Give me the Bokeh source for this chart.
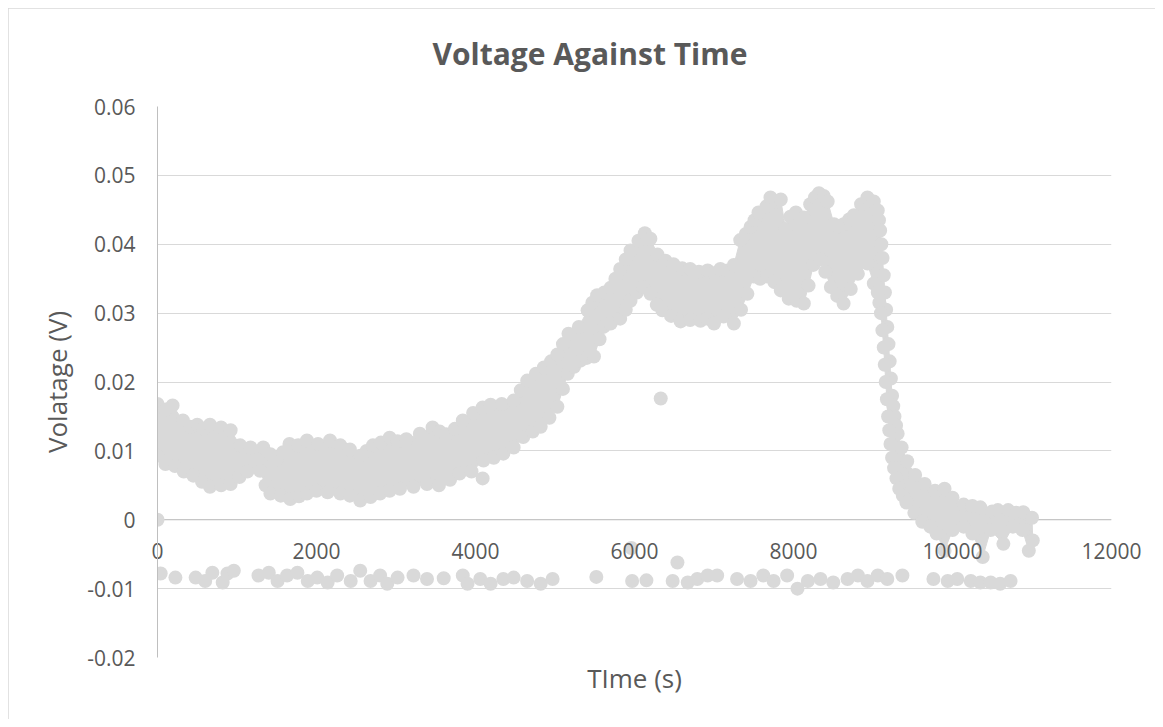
from bokeh.plotting import figure
from bokeh.models import FixedTicker, Span, Title
from bokeh.embed import file_html
from bokeh.resources import INLINE

# ---- data ----
# upper edge of the dense measurement cloud (time s, volts)
upper_x = [0, 100, 190, 320, 410, 500, 580, 660, 800, 920, 1040, 1170, 1330, 1420, 1500, 1580, 1660, 1770, 1880,
           2020, 2170, 2300, 2420, 2550, 2630, 2710, 2810, 2920, 3020, 3130, 3300, 3460, 3550, 3630, 3740, 3840,
           3970, 4090, 4190, 4330, 4480, 4570, 4650, 4760, 4860, 4950, 5030, 5100, 5170, 5300, 5410, 5470, 5530,
           5620, 5700, 5760, 5820, 5890, 5950, 6050, 6130, 6200, 6290, 6390, 6490, 6600, 6700, 6810, 6920, 7000,
           7080, 7170, 7250, 7330, 7400, 7460, 7510, 7560, 7660, 7710, 7780, 7840, 7900, 7960, 8030, 8130, 8210,
           8270, 8320, 8380, 8430, 8510, 8570, 8630, 8700, 8760, 8850, 8930, 9010, 9060, 9075, 9090, 9105, 9120,
           9135, 9150, 9165, 9180, 9195, 9210, 9225, 9240, 9255, 9270, 9290, 9310, 9360, 9430, 9530, 9650, 9780,
           9900, 10000, 10140, 10250, 10350, 10500, 10570, 10700, 10800, 10890, 11000]
upper_y = [0.0168, 0.0160, 0.0166, 0.0144, 0.0135, 0.0138, 0.0132, 0.0138, 0.0134, 0.0130, 0.0108, 0.0105,
           0.0105, 0.0095, 0.0087, 0.0098, 0.0110, 0.0108, 0.0115, 0.0110, 0.0115, 0.0108, 0.0102, 0.0093,
           0.0100, 0.0108, 0.0112, 0.0119, 0.0114, 0.0117, 0.0125, 0.0134, 0.0128, 0.0124, 0.0132, 0.0144,
           0.0155, 0.0163, 0.0167, 0.0168, 0.0173, 0.0188, 0.0202, 0.0212, 0.0221, 0.0230, 0.0240, 0.0255,
           0.0270, 0.0280, 0.0304, 0.0315, 0.0326, 0.0330, 0.0337, 0.0350, 0.0364, 0.0378, 0.0391, 0.0405,
           0.0416, 0.0408, 0.0385, 0.0376, 0.0371, 0.0365, 0.0364, 0.0360, 0.0362, 0.0358, 0.0364, 0.0362,
           0.0370, 0.0406, 0.0415, 0.0425, 0.0435, 0.0446, 0.0455, 0.0468, 0.0462, 0.0465, 0.0422, 0.0440,
           0.0446, 0.0439, 0.0458, 0.0468, 0.0474, 0.0470, 0.0462, 0.0429, 0.0426, 0.0429, 0.0436, 0.0442,
           0.0458, 0.0468, 0.0462, 0.0449, 0.0435, 0.0420, 0.0400, 0.0380, 0.0355, 0.0330, 0.0305, 0.0280,
           0.0255, 0.0230, 0.0205, 0.0180, 0.0165, 0.0150, 0.0137, 0.0125, 0.0105, 0.0085, 0.0065, 0.0052,
           0.0042, 0.0045, 0.0032, 0.0022, 0.0020, 0.0018, 0.0012, 0.0014, 0.0014, 0.0010, 0.0011, 0.0003]

# lower edge of the dense measurement cloud
lower_x = [0, 100, 220, 330, 450, 560, 660, 800, 920, 1030, 1130, 1290, 1360, 1420, 1550, 1670, 1780, 1880, 2000,
           2140, 2300, 2420, 2550, 2680, 2800, 2920, 3050, 3220, 3390, 3540, 3680, 3800, 3950, 4100, 4230, 4350,
           4480, 4600, 4720, 4820, 4930, 5030, 5100, 5160, 5240, 5320, 5400, 5490, 5560, 5610, 5700, 5820, 5890,
           5950, 6030, 6110, 6200, 6280, 6350, 6460, 6580, 6700, 6830, 6920, 7000, 7120, 7250, 7340, 7420, 7500,
           7580, 7670, 7760, 7840, 7940, 8040, 8130, 8190, 8250, 8340, 8400, 8470, 8550, 8630, 8720, 8810, 8930,
           9010, 9060, 9080, 9100, 9118, 9135, 9148, 9160, 9175, 9190, 9205, 9220, 9240, 9265, 9295, 9330, 9375,
           9420, 9520, 9620, 9720, 9800, 9900, 10000, 10140, 10250, 10380, 10480, 10640, 10760, 10880, 10960,
           11010]
lower_y = [0.0093, 0.0081, 0.0078, 0.0070, 0.0064, 0.0055, 0.0048, 0.0050, 0.0052, 0.0062, 0.0070, 0.0071,
           0.0050, 0.0038, 0.0035, 0.0030, 0.0034, 0.0038, 0.0042, 0.0040, 0.0038, 0.0035, 0.0028, 0.0033,
           0.0038, 0.0042, 0.0045, 0.0048, 0.0052, 0.0050, 0.0058, 0.0067, 0.0070, 0.0086, 0.0090, 0.0096,
           0.0105, 0.0120, 0.0128, 0.0135, 0.0148, 0.0164, 0.0190, 0.0212, 0.0222, 0.0231, 0.0235, 0.0237,
           0.0262, 0.0280, 0.0285, 0.0292, 0.0305, 0.0318, 0.0330, 0.0338, 0.0328, 0.0312, 0.0304, 0.0296,
           0.0288, 0.0290, 0.0289, 0.0292, 0.0285, 0.0295, 0.0285, 0.0305, 0.0328, 0.0353, 0.0350, 0.0353,
           0.0345, 0.0333, 0.0321, 0.0318, 0.0314, 0.0340, 0.0370, 0.0378, 0.0360, 0.0338, 0.0325, 0.0314,
           0.0335, 0.0357, 0.0372, 0.0343, 0.0330, 0.0315, 0.0300, 0.0275, 0.0250, 0.0225, 0.0200, 0.0175,
           0.0150, 0.0130, 0.0110, 0.0090, 0.0075, 0.0060, 0.0045, 0.0035, 0.0025, 0.0010, -0.0003, -0.0010,
           -0.0020, -0.0045, -0.0015, -0.0010, -0.0020, -0.0054, -0.0015, -0.0035, -0.0010, -0.0015, -0.0045,
           -0.0030]

# row of readings near -0.009 V
row_x = [40, 225, 480, 600, 690, 820, 880, 960, 1270, 1400, 1510, 1630, 1760, 1890, 2010, 2140, 2260, 2430,
         2550, 2680, 2800, 2890, 3020, 3220, 3390, 3600, 3840, 3900, 4060, 4190, 4350, 4480, 4650, 4820, 4970,
         5520, 5970, 6150, 6480, 6670, 6790, 6920, 7040, 7290, 7460, 7620, 7750, 7920, 8050, 8180, 8340, 8500,
         8680, 8810, 8930, 9060, 9180, 9370, 9760, 9940, 10060, 10230, 10350, 10480, 10600, 10730]
row_y = [-0.0078, -0.0084, -0.0084, -0.0089, -0.0077, -0.0091, -0.0078, -0.0074, -0.0081, -0.0077, -0.0089,
         -0.0081, -0.0077, -0.0089, -0.0084, -0.0091, -0.0081, -0.0089, -0.0074, -0.0089, -0.0081, -0.0093,
         -0.0084, -0.0081, -0.0086, -0.0085, -0.0081, -0.0093, -0.0086, -0.0093, -0.0086, -0.0084, -0.0089,
         -0.0093, -0.0086, -0.0083, -0.0089, -0.0088, -0.0089, -0.0091, -0.0086, -0.0081, -0.0081, -0.0086,
         -0.0089, -0.0081, -0.0089, -0.0081, -0.0100, -0.0089, -0.0086, -0.0091, -0.0086, -0.0081, -0.0089,
         -0.0081, -0.0086, -0.0081, -0.0086, -0.0089, -0.0086, -0.0089, -0.0091, -0.0091, -0.0093, -0.0089]

# isolated readings
out_x = [0, 4090, 6330, 5960, 6540]
out_y = [0.0, 0.0060, 0.0176, -0.0041, -0.0062]

# axes
x_ticks = [0, 2000, 4000, 6000, 8000, 10000, 12000]
x_labels = ["0", "2000", "4000", "6000", "8000", "10000", "12000"]
y_ticks = [-0.02, -0.01, 0, 0.01, 0.02, 0.03, 0.04, 0.05, 0.06]
y_labels = ["-0.02", "-0.01", "0", "0.01", "0.02", "0.03", "0.04", "0.05", "0.06"]

FONT = "Open Sans"
TXT = "#595959"
MARK = "#d9d9d9"
GRID = "#d9d9d9"
AXIS = "#bfbfbf"

p = figure(width=1147, height=711, x_range=(0, 12000), y_range=(-0.02, 0.06),
           output_backend="svg", toolbar_location=None,
           min_border_left=149, min_border_right=44, min_border_top=98, min_border_bottom=62,
           title="Voltage Against Time")
p.styles = {"margin": "8px", "outline": "1px solid #d9d9d9", "outline-offset": "-1px"}
p.outline_line_color = None
p.background_fill_color = "white"
p.border_fill_color = "white"

# empty spacer between the frame and the chart title (lifts the title)
p.add_layout(Title(text=" ", text_font_size="10px", standoff=20), "above")

p.title.text_font = FONT
p.title.text_font_size = "30px"
p.title.text_font_style = "bold"
p.title.text_color = TXT
p.title.align = "left"
p.title.offset = 275
p.title.standoff = 0

# y axis
p.yaxis.ticker = FixedTicker(ticks=y_ticks)
p.yaxis.major_label_overrides = {t: s for t, s in zip(y_ticks, y_labels)}
p.yaxis.major_tick_line_color = None
p.yaxis.major_tick_out = 0
p.yaxis.major_tick_in = 0
p.yaxis.minor_tick_line_color = None
p.yaxis.axis_line_color = AXIS
p.yaxis.major_label_standoff = 22
p.yaxis.major_label_text_font = FONT
p.yaxis.major_label_text_font_size = "21px"
p.yaxis.major_label_text_color = TXT
p.yaxis.axis_label = "Volatage (V)"
p.yaxis.axis_label_text_font = FONT
p.yaxis.axis_label_text_font_size = "26px"
p.yaxis.axis_label_text_font_style = "normal"
p.yaxis.axis_label_text_color = TXT
p.yaxis.axis_label_standoff = 9

# x axis: tick labels are lifted up onto the y = 0 crossing line (Excel style)
p.xaxis.ticker = FixedTicker(ticks=x_ticks)
p.xaxis.major_label_overrides = {t: s for t, s in zip(x_ticks, x_labels)}
p.xaxis.axis_line_color = None
p.xaxis.major_tick_line_color = None
p.xaxis.major_tick_out = 0
p.xaxis.major_tick_in = 0
p.xaxis.minor_tick_line_color = None
p.xaxis.major_label_standoff = -115
p.xaxis.major_label_text_font = FONT
p.xaxis.major_label_text_font_size = "21px"
p.xaxis.major_label_text_color = TXT
p.xaxis.axis_label = "TIme (s)"
p.xaxis.axis_label_text_font = FONT
p.xaxis.axis_label_text_font_size = "26px"
p.xaxis.axis_label_text_font_style = "normal"
p.xaxis.axis_label_text_color = TXT
p.xaxis.axis_label_standoff = 98

p.xgrid.visible = False
p.ygrid.grid_line_color = GRID
p.ygrid.grid_line_width = 1

zero_line = Span(location=0, dimension="width", line_color=AXIS, line_width=1, level="underlay")
p.add_layout(zero_line)

# dense cloud body
poly_x = upper_x + lower_x[::-1]
poly_y = upper_y + lower_y[::-1]
p.patch(poly_x, poly_y, fill_color=MARK, line_color=MARK, line_width=1)
p.scatter(upper_x, upper_y, size=14, fill_color=MARK, line_color=None)
p.scatter(lower_x, lower_y, size=14, fill_color=MARK, line_color=None)
p.scatter(row_x, row_y, size=14, fill_color=MARK, line_color=None)
p.scatter(out_x, out_y, size=14, fill_color=MARK, line_color=None)

open("out.html", "w").write(file_html(p, INLINE))
